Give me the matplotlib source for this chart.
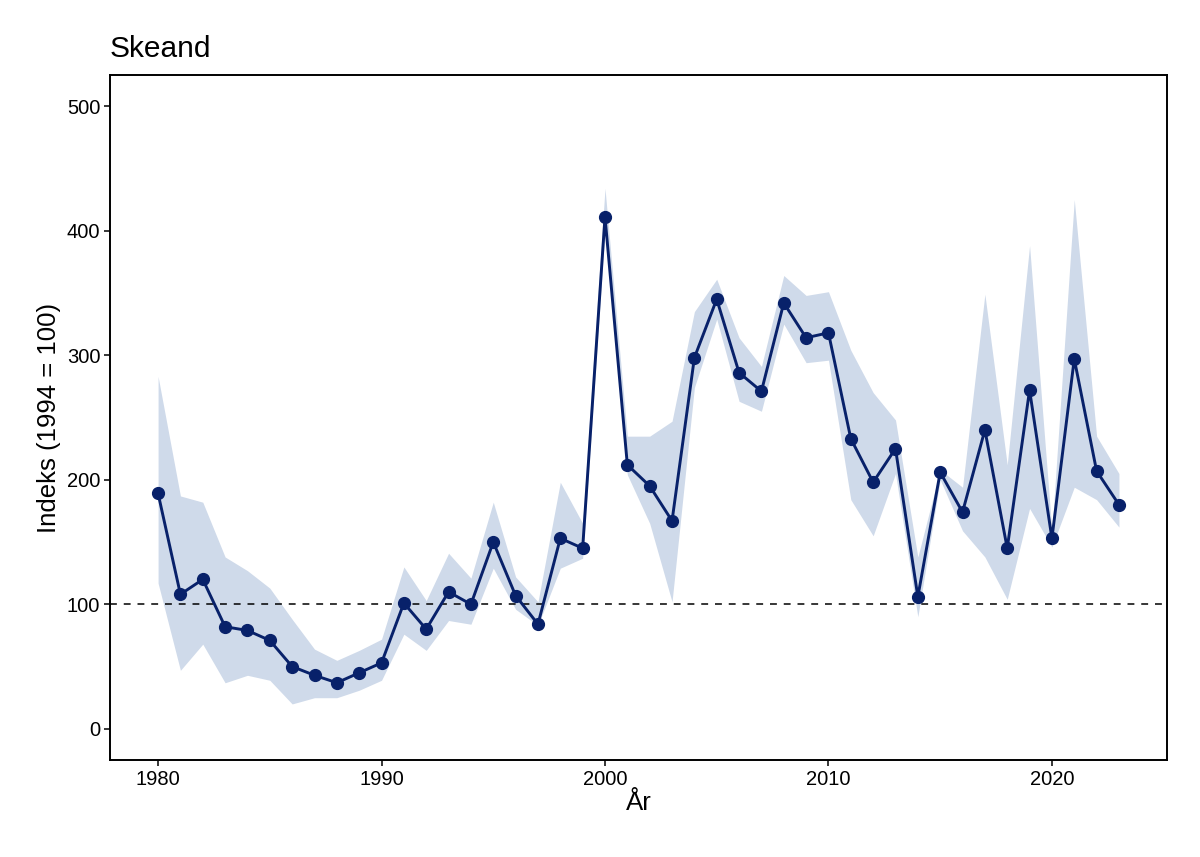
import numpy as np
import matplotlib.pyplot as plt

plt.rcParams['font.family'] = ['Liberation Sans', 'DejaVu Sans']

years = np.arange(1980, 2024)
index = [189, 108, 120, 82, 79, 71, 50, 43, 37, 45,
         53, 101, 80, 110, 100, 150, 107, 84, 153, 145,
         411, 212, 195, 167, 298, 345, 286, 271, 342, 314,
         318, 233, 198, 225, 106, 206, 174, 240, 145, 272,
         153, 297, 207, 180]
lower = [117, 47, 68, 37, 43, 39, 20, 25, 25, 31,
         39, 76, 63, 87, 84, 129, 96, 83, 129, 137,
         401, 204, 165, 102, 274, 329, 263, 255, 325, 294,
         296, 184, 155, 205, 90, 200, 159, 138, 104, 177,
         146, 194, 184, 162]
upper = [283, 187, 182, 138, 127, 113, 88, 64, 55, 63,
         72, 130, 103, 141, 121, 182, 122, 102, 198, 165,
         434, 235, 235, 247, 335, 361, 314, 291, 364, 348,
         351, 304, 270, 248, 138, 208, 194, 349, 212, 388,
         159, 425, 235, 205]

fig = plt.figure(figsize=(12, 8.57), dpi=100)
ax = fig.add_axes([0.0917, 0.1132, 0.8808, 0.7993])

ax.fill_between(years, lower, upper, color='#CFDAEA', linewidth=0)
ax.axhline(100, color='black', linestyle=(0, (4.5, 4.5)), linewidth=1.1)
ax.plot(years, index, color='#08216A', linewidth=2.1, marker='o', markersize=8.5)

ax.set_xlim(1977.85, 2025.15)
ax.set_ylim(-25, 525)
ax.set_xticks([1980, 1990, 2000, 2010, 2020])
ax.set_yticks([0, 100, 200, 300, 400, 500])
ax.tick_params(labelsize=14.5, length=4.5, width=1.1, pad=2.5, colors='black')
for s in ax.spines.values():
    s.set_linewidth(1.4)

ax.set_xlabel('År', fontsize=18.5, labelpad=2)
ax.set_ylabel('Indeks (1994 = 100)', fontsize=18.5, labelpad=4)
ax.set_title('Skeand', fontsize=21.5, loc='left', pad=13)

fig.savefig('out.png', dpi=100)
